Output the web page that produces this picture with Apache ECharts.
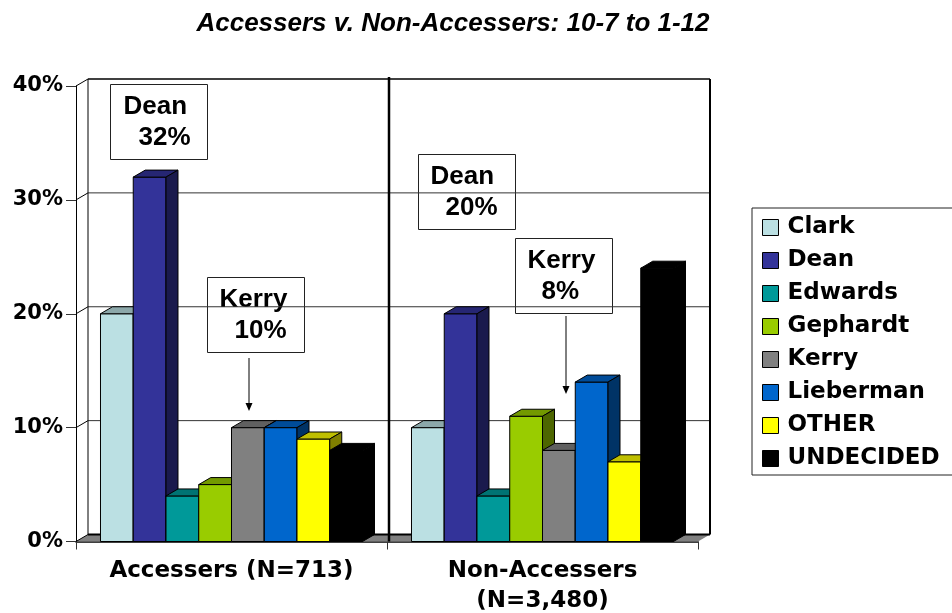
<!DOCTYPE html>
<html><head><meta charset="utf-8">
<script src="https://cdn.jsdelivr.net/npm/echarts@6/dist/echarts.min.js"></script>
<style>html,body{margin:0;padding:0;background:#fff}#c{width:952px;height:613px}</style>
</head><body><div id="c"></div>
<script>
// ---- data ----
const categories = ['Accessers (N=713)', 'Non-Accessers\n(N=3,480)'];
const candidates = ['Clark', 'Dean', 'Edwards', 'Gephardt', 'Kerry', 'Lieberman', 'OTHER', 'UNDECIDED'];
const accessers = [20, 32, 4, 5, 10, 10, 9, 8];
const nonAccessers = [10, 20, 4, 11, 8, 14, 7, 24];
const yMin = 0, yMax = 40, yStep = 10;
const titleText = 'Accessers v. Non-Accessers: 10-7 to 1-12';

// ---- styles ----
const FONT = 'DejaVu Sans';
const FONT2 = 'Liberation Sans';
const faceColors = [
  ['#BBE0E3', '#8CA8AA', '#5E7072'],
  ['#333399', '#262673', '#1A1A4D'],
  ['#009999', '#007373', '#004D4D'],
  ['#99CC00', '#739900', '#4D6600'],
  ['#808080', '#606060', '#404040'],
  ['#0066CC', '#004C99', '#003366'],
  ['#FFFF00', '#BFBF00', '#808000'],
  ['#000000', '#000000', '#000000']
];
const DX = 12, DY = -7;
const BAR_FILL = 0.8425;

const chart = echarts.init(document.getElementById('c'), null, {renderer: 'canvas'});

function wallRender(params, api) {
  const cs = params.coordSys;
  const left = cs.x, right = cs.x + cs.width;
  const bottom = api.coord([0, yMin])[1];
  const top = api.coord([0, yMax])[1];
  const ch = [];
  ch.push({type: 'polygon', shape: {points: [[left, bottom], [right, bottom], [right + DX, bottom + DY], [left + DX, bottom + DY]]},
    style: {fill: '#808080', stroke: null}});
  for (let v = yMin + yStep; v <= yMax; v += yStep) {
    const y = api.coord([0, v])[1];
    ch.push({type: 'line', shape: {x1: left + DX, y1: y + DY, x2: right + DX, y2: y + DY},
      style: {stroke: v === yMax ? '#000' : '#333', lineWidth: v === yMax ? 1.5 : 1}});
  }
  for (let v = yMin; v <= yMax; v += yStep) {
    const y = api.coord([0, v])[1];
    ch.push({type: 'line', shape: {x1: left, y1: y, x2: left + DX, y2: y + DY}, style: {stroke: '#000', lineWidth: 1}});
  }
  ch.push({type: 'line', shape: {x1: left + DX, y1: bottom + DY, x2: right + DX, y2: bottom + DY}, style: {stroke: '#000', lineWidth: 2}});
  ch.push({type: 'line', shape: {x1: left + DX, y1: top + DY, x2: left + DX, y2: bottom + DY}, style: {stroke: '#000', lineWidth: 1}});
  ch.push({type: 'line', shape: {x1: right + DX, y1: top + DY, x2: right + DX, y2: bottom + DY}, style: {stroke: '#000', lineWidth: 2}});
  const mid = (left + right) / 2 + 2;
  ch.push({type: 'line', shape: {x1: mid, y1: top + DY - 2, x2: mid, y2: bottom}, style: {stroke: '#000', lineWidth: 2.5}});
  return {type: 'group', children: ch};
}

function barRender(idx) {
  return function (params, api) {
    const cat = api.value(0), val = api.value(1);
    const c = api.coord([cat, val]);
    const base = api.coord([cat, yMin]);
    const band = api.size([1, 0])[0];
    const bw = band * BAR_FILL / candidates.length;
    const x0 = c[0] + (idx - (candidates.length - 1) / 2) * bw - bw / 2;
    const yt = c[1], yb = base[1];
    const col = faceColors[idx];
    const st = {stroke: '#000', lineWidth: 1};
    return {type: 'group', children: [
      {type: 'rect', shape: {x: x0, y: yt, width: bw, height: yb - yt}, style: Object.assign({fill: col[0]}, st)},
      {type: 'polygon', shape: {points: [[x0, yt], [x0 + DX, yt + DY], [x0 + bw + DX, yt + DY], [x0 + bw, yt]]}, style: Object.assign({fill: col[1]}, st)},
      {type: 'polygon', shape: {points: [[x0 + bw, yt], [x0 + bw + DX, yt + DY], [x0 + bw + DX, yb + DY], [x0 + bw, yb]]}, style: Object.assign({fill: col[2]}, st)}
    ]};
  };
}

const series = [{
  type: 'custom', name: '_walls', renderItem: wallRender, data: [[0, 0]], z: 1, silent: true, clip: false
}];
candidates.forEach((name, i) => {
  series.push({
    type: 'custom', name: name, z: 2, clip: false,
    itemStyle: {color: faceColors[i][0], borderColor: '#000', borderWidth: 1},
    renderItem: barRender(i),
    data: categories.map((c, k) => [k, k === 0 ? accessers[i] : nonAccessers[i]])
  });
});

function note(x, y, l1, l2, dx1, dx2) {
  const f = 'bold 26px "' + FONT2 + '"';
  return {type: 'group', left: x, top: y, z: 10, children: [
    {type: 'rect', shape: {x: 0, y: 0, width: 97, height: 75}, style: {fill: null, stroke: '#222', lineWidth: 1}},
    {type: 'text', x: dx1, y: 22, style: {text: l1, font: f, fill: '#000', verticalAlign: 'middle'}},
    {type: 'text', x: dx2, y: 53, style: {text: l2, font: f, fill: '#000', verticalAlign: 'middle'}}
  ]};
}
function arrow(x, y1, y2) {
  return {type: 'group', z: 10, children: [
    {type: 'line', shape: {x1: x, y1: y1, x2: x, y2: y2 - 6}, style: {stroke: '#000', lineWidth: 1}},
    {type: 'polygon', shape: {points: [[x - 3.5, y2 - 8], [x + 3.5, y2 - 8], [x, y2]]}, style: {fill: '#000'}}
  ]};
}

chart.setOption({
  animation: false,
  backgroundColor: '#fff',
  title: {text: titleText, left: 448, top: 6, textAlign: 'center',
    textStyle: {fontFamily: FONT2, fontSize: 26, fontWeight: 'bold', fontStyle: 'italic', color: '#000'}},
  legend: {
    orient: 'vertical', left: 752, top: 208, data: candidates,
    itemWidth: 16, itemHeight: 16, itemGap: 10, icon: 'rect',
    padding: [8, 20, 5, 10], borderColor: '#222', borderWidth: 1,
    itemStyle: {borderColor: '#000', borderWidth: 1},
    textStyle: {fontFamily: FONT, fontSize: 23, fontWeight: 'bold', color: '#000', lineHeight: 22, padding: [0, 0, 0, 4]},
    selectedMode: false
  },
  grid: {left: 76, right: 254, top: 86, bottom: 71.5, containLabel: false, outerBoundsMode: 'none'},
  xAxis: {
    type: 'category', data: categories,
    axisLine: {lineStyle: {color: '#000', width: 1.5}},
    axisTick: {show: true, length: 8, lineStyle: {color: '#333'}},
    axisLabel: {interval: 0, hideOverlap: false, fontFamily: FONT, fontSize: 23, fontWeight: 'bold', color: '#000', lineHeight: 30, margin: 15},
    splitLine: {show: false}
  },
  yAxis: {
    type: 'value', min: yMin, max: yMax, interval: yStep,
    axisLine: {show: true, lineStyle: {color: '#000', width: 1}},
    axisTick: {show: true, length: 10, lineStyle: {color: '#333'}},
    axisLabel: {formatter: '{value}%', fontFamily: FONT, fontSize: 21, fontWeight: 'bold', color: '#000', margin: 13},
    splitLine: {show: false}
  },
  series: series,
  graphic: [
    note(108, 82, 'Dean', '32%', 13, 28),
    note(205, 275, 'Kerry', '10%', 12, 27),
    note(416, 152, 'Dean', '20%', 12, 27),
    note(513, 236, 'Kerry', '8%', 12, 26),
    arrow(249, 358, 411),
    arrow(566, 316, 394)
  ]
});
</script></body></html>
